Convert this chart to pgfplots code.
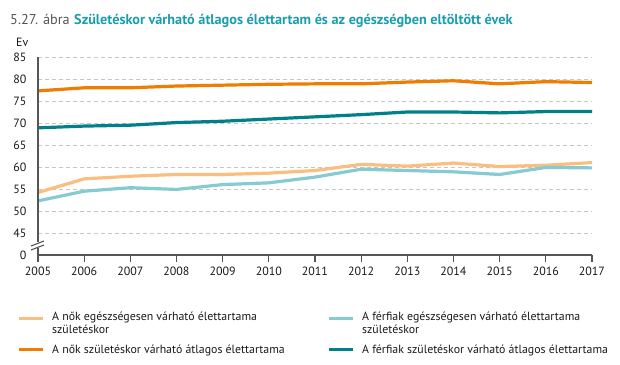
\documentclass[border=0pt]{standalone}
\usepackage{fontspec}
\setmainfont{PT Sans}
\usepackage{pgfplots}
\pgfplotsset{compat=1.18}
\definecolor{orD}{HTML}{EE7D00}
\definecolor{orL}{HTML}{F9BE80}
\definecolor{teD}{HTML}{00808A}
\definecolor{teL}{HTML}{86CAD2}
\definecolor{ttl}{HTML}{1C9DAE}
\definecolor{axc}{HTML}{555555}
\definecolor{txt}{HTML}{1A1A1A}
\begin{document}
\begin{tikzpicture}
\useasboundingbox (0,0) rectangle (620bp,365bp);
\begin{axis}[
  at={(38bp,110bp)}, anchor=south west,
  scale only axis, width=554bp, height=198bp,
  xmin=2005, xmax=2017, ymin=40, ymax=85,
  axis x line*=bottom,
  y axis line style={draw=none},
  separate axis lines,
  x axis line style={draw=axc, line width=1.2bp},
  xtick={2005,...,2017},
  xticklabels={2005,2006,2007,2008,2009,2010,2011,2012,2013,2014,2015,2016,2017},
  xtick pos=bottom, tick align=outside,
  major tick length=7bp,
  xtick style={draw=axc, line width=1.2bp},
  ytick={40,45,...,85},
  yticklabels={0,45,50,55,60,65,70,75,80,85},
  ytick style={draw=none},
  ymajorgrids,
  grid style={draw=gray!45, dash pattern=on 4bp off 3bp, line width=0.8bp},
  tick label style={font=\fontsize{12}{14}\selectfont, text=txt},
  xticklabel style={yshift=-1bp},
  yticklabel style={anchor=east, xshift=-1bp},
  /pgf/number format/assume math mode=true,
  clip=false,
]
\addplot[orL, line width=3.2bp] coordinates {
(2005,54.2) (2006,57.3) (2007,57.9) (2008,58.3) (2009,58.3) (2010,58.6) (2011,59.2)
(2012,60.6) (2013,60.2) (2014,60.9) (2015,60.1) (2016,60.4) (2017,61.0)};
\addplot[teL, line width=3.2bp] coordinates {
(2005,52.3) (2006,54.5) (2007,55.3) (2008,54.9) (2009,56.0) (2010,56.4) (2011,57.7)
(2012,59.5) (2013,59.2) (2014,58.9) (2015,58.3) (2016,59.9) (2017,59.8)};
\addplot[orD, line width=3.2bp] coordinates {
(2005,77.3) (2006,78.0) (2007,78.0) (2008,78.4) (2009,78.6) (2010,78.8) (2011,78.9)
(2012,78.9) (2013,79.3) (2014,79.6) (2015,78.9) (2016,79.4) (2017,79.2)};
\addplot[teD, line width=3.2bp] coordinates {
(2005,68.9) (2006,69.3) (2007,69.5) (2008,70.1) (2009,70.4) (2010,70.9) (2011,71.4)
(2012,71.9) (2013,72.5) (2014,72.5) (2015,72.3) (2016,72.6) (2017,72.6)};
\end{axis}
% y axis with break
\draw[axc, line width=1.2bp] (38bp,110bp) -- (38bp,117bp);
\draw[axc, line width=1.2bp] (38bp,123bp) -- (38bp,308bp);
\draw[axc, line width=1.1bp] (31bp,119bp) -- (44bp,124bp);
\draw[axc, line width=1.1bp] (31bp,115bp) -- (44bp,120bp);
% Ev
\node[anchor=west, text=txt, font=\fontsize{12}{14}\selectfont, inner sep=0] at (16bp,323bp) {Ev};
% title
\node[anchor=base east, inner sep=0, font=\fontsize{14.3}{16}\selectfont, text=axc] at (70bp,340bp) {5.27. ábra};
\node[anchor=base west, inner sep=0, font=\fontsize{14.3}{16}\selectfont\bfseries, text=ttl] at (74bp,340bp)
  {Születéskor várható átlagos élettartam és az egészségben eltöltött évek};
% legend
\begin{scope}[font=\fontsize{11.9}{13}\selectfont]
\draw[orL, line width=3bp] (19bp,46bp) -- (43bp,46bp);
\node[anchor=north west, inner sep=0, align=left, text=txt] at (52bp,53bp) {A nők egészségesen várható élettartama\\születéskor};
\draw[orD, line width=3bp] (19bp,15bp) -- (43bp,15bp);
\node[anchor=west, inner sep=0, text=txt] at (52bp,14.5bp) {A nők születéskor várható átlagos élettartama};
\draw[teL, line width=3bp] (329bp,46bp) -- (353bp,46bp);
\node[anchor=north west, inner sep=0, align=left, text=txt] at (362bp,53bp) {A férfiak egészségesen várható élettartama\\születéskor};
\draw[teD, line width=3bp] (329bp,15bp) -- (353bp,15bp);
\node[anchor=west, inner sep=0, text=txt] at (362bp,14.5bp) {A férfiak születéskor várható átlagos élettartama};
\end{scope}
\end{tikzpicture}
\end{document}
